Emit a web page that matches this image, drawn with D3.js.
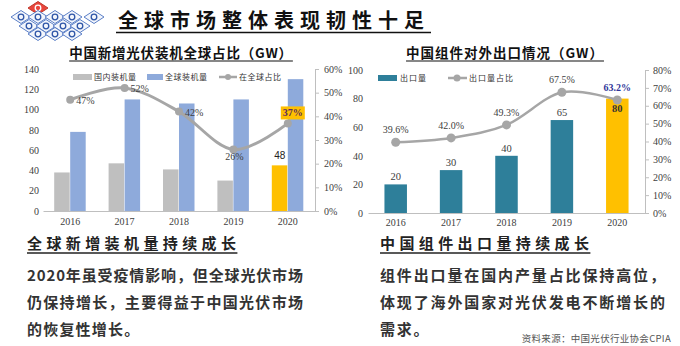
<!DOCTYPE html>
<html><head><meta charset="utf-8">
<script src="https://cdn.jsdelivr.net/npm/d3@7"></script>
<style>body{margin:0;background:#fff}svg{display:block}</style>
</head><body><svg id="c" width="680" height="346"></svg>
<script>
// ---------- DATA ----------
const years = ["2016","2017","2018","2019","2020"];
const domesticGW = [38,47,41,30,45];
const domesticLabels = ["","","","","48"];
const globalGW = [78,110,106,110,130];
const chinaShare = [47,52,42,26,37];
const leftTicks = [0,20,40,60,80,100,120,140];
const leftPctTicks = [0,10,20,30,40,50,60];
const exportGW = [20,30,40,65,80];
const exportShare = [39.6,42.0,49.3,67.5,63.2];
const rightTicks = [0,20,40,60,80,100];
const rightPctTicks = [0,10,20,30,40,50,60,70,80];
const highlightYear = "2020";
const leftLegend = ["国内装机量","全球装机量","在全球占比"];
const rightLegend = ["出口量","出口量占比"];
const mainTitle = "全球市场整体表现韧性十足";
const leftTitle = "中国新增光伏装机全球占比（GW）";
const rightTitle = "中国组件对外出口情况（GW）";
const leftHead = "全球新增装机量持续成长";
const leftBody = ["2020年虽受疫情影响，但全球光伏市场","仍保持增长，主要得益于中国光伏市场","的恢复性增长。"];
const rightHead = "中国组件出口量持续成长";
const rightBody = ["组件出口量在国内产量占比保持高位，","体现了海外国家对光伏发电不断增长的","需求。"];
const source = "资料来源：中国光伏行业协会CPIA";

// ---------- STYLE ----------
const C = {gray:"#bfbfbf", blue:"#8eaadb", yellow:"#ffc000", teal:"#2e7f9a", line:"#a6a6a6", axis:"#bfbfbf", tick:"#404040", text:"#333"};
const serif = "'Liberation Serif','DejaVu Serif',serif";
const cjk = "'Noto Sans CJK SC','Noto Sans',sans-serif";

const svg = d3.select("#c");
svg.append("rect").attr("width",680).attr("height",346).attr("fill","#fff");

// ---------- LOGO ----------
const logo = svg.append("g");
const dia = (cx,cy,w,h)=>`M${cx-w},${cy}L${cx},${cy-h}L${cx+w},${cy}L${cx},${cy+h}Z`;
const logoCells = [[38,8,1],[21,17,0],[38,17,0],[55,17,0],[72,17,0],[94,17,0],[29,26,0],[46,26,0],[63,26,0],[80,26,0],[38,34,0],[55,34,0],[72,34,0]];
logoCells.forEach(([x,y,red])=>{
  logo.append("path").attr("d",dia(x,y,10,6.5)).attr("fill",red?"#e8453c":"#f3f6fc").attr("stroke",red?"#c0392b":"#5b7fc7").attr("stroke-width",1);
  logo.append("circle").attr("cx",x).attr("cy",y).attr("r",2.8).attr("fill","none").attr("stroke",red?"#fff":"#2f56a8").attr("stroke-width",1.3);
});

// ---------- HEADER ----------
svg.append("text").attr("x",118).attr("y",28).attr("font-family",cjk).attr("font-weight",700)
  .attr("font-size",20).attr("letter-spacing",6).attr("fill","#111").text(mainTitle);
svg.append("line").attr("x1",116).attr("x2",431).attr("y1",32.5).attr("y2",32.5).attr("stroke","#111").attr("stroke-width",1.5);

function chartTitle(txt,cx,ls){
  const t = svg.append("text").attr("x",cx).attr("y",58).attr("text-anchor","middle").attr("font-family",cjk)
    .attr("font-weight",700).attr("font-size",13.5).attr("letter-spacing",ls).attr("fill","#111").text(txt);
  const bb = t.node().getBBox();
  svg.append("line").attr("x1",bb.x).attr("x2",bb.x+bb.width).attr("y1",61).attr("y2",61).attr("stroke","#111").attr("stroke-width",1.2);
}
chartTitle(leftTitle,181,0.8);
chartTitle(rightTitle,505,1);

// ---------- LEFT CHART ----------
(function(){
  const x = d3.scaleBand().domain(years).range([43,315]);
  const y = d3.scaleLinear().domain([0,140]).range([211,69]);
  const yr = d3.scaleLinear().domain([0,60]).range([211,69]);
  const cx = d => x(d)+x.bandwidth()/2;
  const g = svg.append("g");
  const rows = years.map((yr_,i)=>({year:yr_,dom:domesticGW[i],glob:globalGW[i],share:chinaShare[i],lab:domesticLabels[i]}));

  g.selectAll(".dom").data(rows).join("rect")
    .attr("x",d=>cx(d.year)-16).attr("width",15.5)
    .attr("y",d=>y(d.dom)).attr("height",d=>y(0)-y(d.dom))
    .attr("fill",d=>d.year===highlightYear?C.yellow:C.gray);
  g.selectAll(".glob").data(rows).join("rect")
    .attr("x",d=>cx(d.year)).attr("width",15.5)
    .attr("y",d=>y(d.glob)).attr("height",d=>y(0)-y(d.glob))
    .attr("fill",C.blue);

  const la = g.append("g").attr("transform","translate(43,0)").call(d3.axisLeft(y).tickValues(leftTicks).tickSize(0).tickPadding(4));
  la.select(".domain").remove();
  const ra = g.append("g").attr("transform","translate(315,0)").call(d3.axisRight(yr).tickValues(leftPctTicks).tickSize(4).tickPadding(5).tickFormat(d=>d+"%"));
  ra.select(".domain").attr("stroke",C.axis);
  ra.selectAll("line").attr("stroke",C.axis);
  const xa = g.append("g").attr("transform","translate(0,211)").call(d3.axisBottom(x).tickSize(0).tickPadding(7));
  xa.select(".domain").attr("stroke",C.axis);
  g.selectAll(".tick text").attr("font-family",serif).attr("font-size",10).attr("fill",C.tick);

  const ln = d3.line().x(d=>cx(d.year)).y(d=>yr(d.share)).curve(d3.curveCardinal.tension(0));
  g.append("path").datum(rows).attr("d",ln).attr("fill","none").attr("stroke",C.line).attr("stroke-width",3);
  g.selectAll(".pt").data(rows).join("circle").attr("cx",d=>cx(d.year)).attr("cy",d=>yr(d.share)).attr("r",4).attr("fill",C.line);

  rows.forEach((d,i)=>{
    const px = cx(d.year), py = yr(d.share);
    if(d.year===highlightYear){
      const t = g.append("text").attr("x",px+5).attr("y",py-7).attr("text-anchor","middle").attr("font-family",serif)
        .attr("font-weight",700).attr("font-size",10).attr("fill","#5b2a5e").text(d.share+"%");
      const bb = t.node().getBBox();
      g.insert("rect",()=>t.node()).attr("x",bb.x-2).attr("y",bb.y-1).attr("width",bb.width+4).attr("height",bb.height+2).attr("fill",C.yellow);
    } else if(i===3){
      g.append("text").attr("x",px+1).attr("y",py+11).attr("text-anchor","middle").attr("font-family",serif)
        .attr("font-size",10).attr("fill",C.tick).text(d.share+"%");
    } else {
      g.append("text").attr("x",px+6).attr("y",py+4).attr("font-family",serif)
        .attr("font-size",10).attr("fill",C.tick).text(d.share+"%");
    }
    if(d.lab){
      g.append("text").attr("x",cx(d.year)-8).attr("y",y(d.dom)-6).attr("text-anchor","middle")
        .attr("font-family","'Liberation Sans',sans-serif").attr("font-size",10).attr("fill","#222").text(d.lab);
    }
  });

  const lg = g.append("g").attr("font-family",cjk).attr("font-size",8).attr("fill",C.text);
  lg.append("rect").attr("x",73).attr("y",74).attr("width",19).attr("height",6).attr("fill",C.gray);
  lg.append("text").attr("x",94).attr("y",80).attr("letter-spacing",0.5).text(leftLegend[0]);
  lg.append("rect").attr("x",147).attr("y",74).attr("width",16).attr("height",6).attr("fill",C.blue);
  lg.append("text").attr("x",165).attr("y",80).attr("letter-spacing",0.5).text(leftLegend[1]);
  lg.append("line").attr("x1",219).attr("x2",237).attr("y1",77).attr("y2",77).attr("stroke",C.line).attr("stroke-width",2.5);
  lg.append("circle").attr("cx",228).attr("cy",77).attr("r",3).attr("fill",C.line);
  lg.append("text").attr("x",239).attr("y",80).attr("letter-spacing",0.5).text(leftLegend[2]);
})();

// ---------- RIGHT CHART ----------
(function(){
  const x = d3.scaleBand().domain(years).range([368,645]);
  const y = d3.scaleLinear().domain([0,100]).range([213,70]);
  const yr = d3.scaleLinear().domain([0,80]).range([213,70]);
  const cx = d => x(d)+x.bandwidth()/2;
  const g = svg.append("g");
  const rows = years.map((yy,i)=>({year:yy,val:exportGW[i],share:exportShare[i]}));
  const bw = 22.5;
  g.selectAll(".bar").data(rows).join("rect")
    .attr("x",d=>cx(d.year)-bw/2).attr("width",bw)
    .attr("y",d=>y(d.val)).attr("height",d=>y(0)-y(d.val))
    .attr("fill",d=>d.year===highlightYear?C.yellow:C.teal);

  const la = g.append("g").attr("transform","translate(368,0)").call(d3.axisLeft(y).tickValues(rightTicks).tickSize(0).tickPadding(5));
  la.select(".domain").remove();
  const ra = g.append("g").attr("transform","translate(645,0)").call(d3.axisRight(yr).tickValues(rightPctTicks).tickSize(4).tickPadding(4).tickFormat(d=>d+"%"));
  ra.select(".domain").attr("stroke",C.axis);
  ra.selectAll("line").attr("stroke",C.axis);
  const xa = g.append("g").attr("transform","translate(0,213)").call(d3.axisBottom(x).tickSize(0).tickPadding(6));
  xa.select(".domain").attr("stroke",C.axis);
  g.selectAll(".tick text").attr("font-family",serif).attr("font-size",10).attr("fill",C.tick);

  const ln = d3.line().x(d=>cx(d.year)).y(d=>yr(d.share)).curve(d3.curveCardinal.tension(0));
  g.append("path").datum(rows).attr("d",ln).attr("fill","none").attr("stroke",C.line).attr("stroke-width",2.5);
  g.selectAll(".pt").data(rows).join("circle").attr("cx",d=>cx(d.year)).attr("cy",d=>yr(d.share)).attr("r",4.5).attr("fill",C.line);

  rows.forEach(d=>{
    const hl = d.year===highlightYear;
    g.append("text").attr("x",cx(d.year)).attr("y",yr(d.share)-9).attr("text-anchor","middle").attr("font-family",serif)
      .attr("font-size",10).attr("font-weight",hl?700:400).attr("fill",hl?"#2f3699":C.tick).text(d.share.toFixed(1)+"%");
    g.append("text").attr("x",cx(d.year)).attr("y",hl?y(d.val)+13:y(d.val)-4).attr("text-anchor","middle").attr("font-family",serif)
      .attr("font-size",10.5).attr("font-weight",hl?700:400).attr("fill",hl?"#333":C.tick).text(d.val);
  });

  const lg = g.append("g").attr("font-family",cjk).attr("font-size",8).attr("fill",C.text);
  lg.append("rect").attr("x",378).attr("y",75).attr("width",19).attr("height",6).attr("fill",C.teal);
  lg.append("text").attr("x",400).attr("y",81).attr("letter-spacing",1).text(rightLegend[0]);
  lg.append("line").attr("x1",448).attr("x2",467).attr("y1",78).attr("y2",78).attr("stroke",C.line).attr("stroke-width",2.5);
  lg.append("circle").attr("cx",457).attr("cy",78).attr("r",3.5).attr("fill",C.line);
  lg.append("text").attr("x",469).attr("y",81).attr("letter-spacing",1).text(rightLegend[1]);
})();

// ---------- BOTTOM TEXT ----------
function block(x,head,body,bodyLen){
  const h = svg.append("text").attr("x",x).attr("y",249).attr("font-family",cjk).attr("font-weight",700)
    .attr("font-size",15).attr("letter-spacing",4.4).attr("fill","#222").text(head);
  const bb = h.node().getBBox();
  svg.append("line").attr("x1",x).attr("x2",bb.x+bb.width-3).attr("y1",253).attr("y2",253).attr("stroke","#222").attr("stroke-width",1.3);
  body.forEach((s,i)=>{
    const t = svg.append("text").attr("x",x).attr("y",281+i*27).attr("font-family",cjk).attr("font-weight",700)
      .attr("font-size",15).attr("fill",C.text).text(s);
    if(i<2) t.attr("textLength",bodyLen).attr("lengthAdjust","spacing");
    else t.attr("letter-spacing",bodyLen===276?1.2:1.8);
  });
}
block(27,leftHead,leftBody,276);
block(380,rightHead,rightBody,285);
svg.append("text").attr("x",671).attr("y",342).attr("text-anchor","end").attr("font-family",cjk)
  .attr("font-size",9.5).attr("letter-spacing",0.3).attr("fill","#555").text(source);
</script></body></html>
